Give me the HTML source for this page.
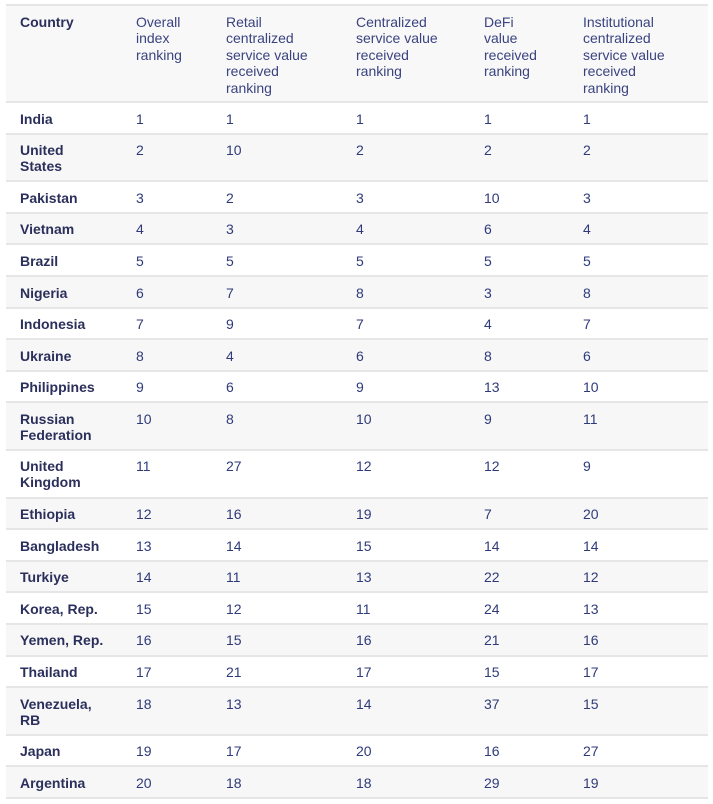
<!DOCTYPE html>
<html><head><meta charset="utf-8"><style>
body{margin:0;background:#fff;font-family:"Liberation Sans",sans-serif;}
table{position:absolute;left:6px;top:4px;width:702px;border-collapse:collapse;table-layout:fixed;font-size:14px;color:#2f3a7a;}
td,th{text-align:left;vertical-align:top;padding:7.5px 0 6.1px 0;line-height:16px;border-top:2px solid #e6e6e6;border-bottom:2px solid #e6e6e6;white-space:nowrap;}
th{font-weight:normal;color:#3a4380;line-height:16.4px;padding:8px 0 5px 0;}
th:first-child,td:first-child{padding-left:14px;font-weight:bold;color:#2b2f5b;}
thead tr{background:#f8f8f8;}
tbody tr:nth-child(even){background:#f7f7f7;}
tbody tr:nth-child(odd){background:#fff;}
</style></head><body>
<table>
<colgroup><col style="width:130px"><col style="width:90px"><col style="width:130px"><col style="width:128px"><col style="width:99px"><col></colgroup>
<thead><tr><th>Country</th><th>Overall<br>index<br>ranking</th><th>Retail<br>centralized<br>service value<br>received<br>ranking</th><th>Centralized<br>service value<br>received<br>ranking</th><th>DeFi<br>value<br>received<br>ranking</th><th>Institutional<br>centralized<br>service value<br>received<br>ranking</th></tr></thead>
<tbody>
<tr><td>India</td><td>1</td><td>1</td><td>1</td><td>1</td><td>1</td></tr>
<tr><td>United<br>States</td><td>2</td><td>10</td><td>2</td><td>2</td><td>2</td></tr>
<tr><td>Pakistan</td><td>3</td><td>2</td><td>3</td><td>10</td><td>3</td></tr>
<tr><td>Vietnam</td><td>4</td><td>3</td><td>4</td><td>6</td><td>4</td></tr>
<tr><td>Brazil</td><td>5</td><td>5</td><td>5</td><td>5</td><td>5</td></tr>
<tr><td>Nigeria</td><td>6</td><td>7</td><td>8</td><td>3</td><td>8</td></tr>
<tr><td>Indonesia</td><td>7</td><td>9</td><td>7</td><td>4</td><td>7</td></tr>
<tr><td>Ukraine</td><td>8</td><td>4</td><td>6</td><td>8</td><td>6</td></tr>
<tr><td>Philippines</td><td>9</td><td>6</td><td>9</td><td>13</td><td>10</td></tr>
<tr><td>Russian<br>Federation</td><td>10</td><td>8</td><td>10</td><td>9</td><td>11</td></tr>
<tr><td>United<br>Kingdom</td><td>11</td><td>27</td><td>12</td><td>12</td><td>9</td></tr>
<tr><td>Ethiopia</td><td>12</td><td>16</td><td>19</td><td>7</td><td>20</td></tr>
<tr><td>Bangladesh</td><td>13</td><td>14</td><td>15</td><td>14</td><td>14</td></tr>
<tr><td>Turkiye</td><td>14</td><td>11</td><td>13</td><td>22</td><td>12</td></tr>
<tr><td>Korea, Rep.</td><td>15</td><td>12</td><td>11</td><td>24</td><td>13</td></tr>
<tr><td>Yemen, Rep.</td><td>16</td><td>15</td><td>16</td><td>21</td><td>16</td></tr>
<tr><td>Thailand</td><td>17</td><td>21</td><td>17</td><td>15</td><td>17</td></tr>
<tr><td>Venezuela,<br>RB</td><td>18</td><td>13</td><td>14</td><td>37</td><td>15</td></tr>
<tr><td>Japan</td><td>19</td><td>17</td><td>20</td><td>16</td><td>27</td></tr>
<tr><td>Argentina</td><td>20</td><td>18</td><td>18</td><td>29</td><td>19</td></tr>
</tbody></table>
</body></html>
